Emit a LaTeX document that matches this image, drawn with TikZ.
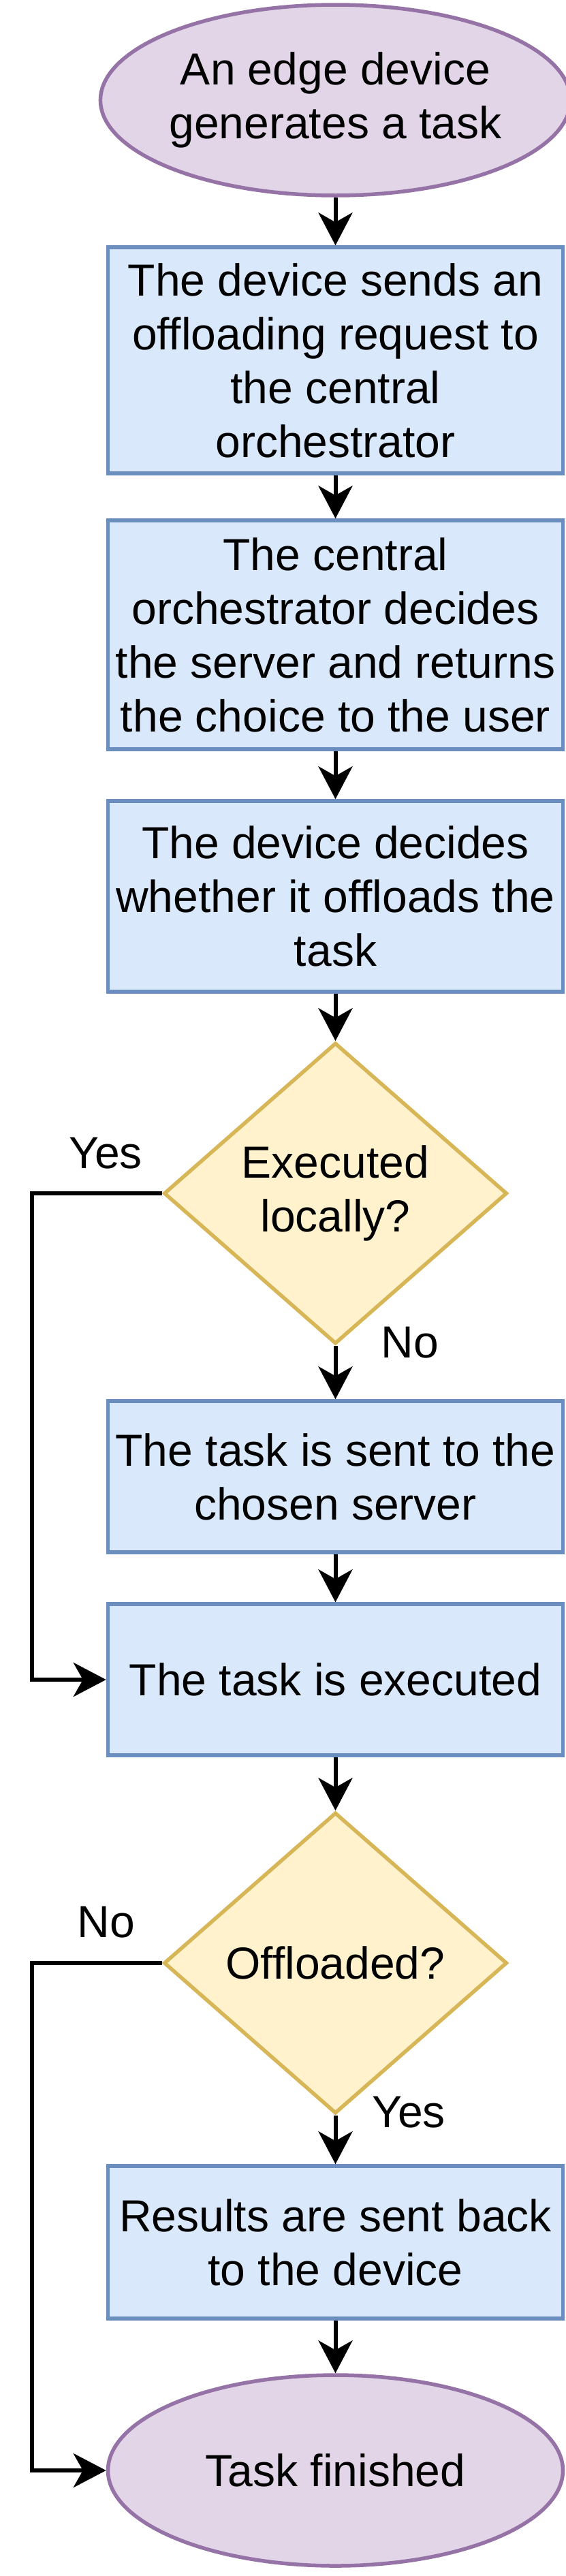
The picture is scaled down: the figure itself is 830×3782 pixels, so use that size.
\documentclass[tikz,border=0pt]{standalone}
\usepackage{fontspec}
\setmainfont{Liberation Sans}
\usetikzlibrary{shapes.geometric,arrows.meta}
\definecolor{pfill}{HTML}{E1D5E7}
\definecolor{pline}{HTML}{9673A6}
\definecolor{bfill}{HTML}{DAE8FC}
\definecolor{bline}{HTML}{6C8EBF}
\definecolor{yfill}{HTML}{FFF2CC}
\definecolor{yline}{HTML}{D6B656}
\begin{document}
\begin{tikzpicture}[x=1pt,y=-1pt,
  every node/.style={font=\fontsize{66}{79}\selectfont, align=center, inner sep=0pt},
  termbox/.style={ellipse, draw=pline, fill=pfill, line width=5.5pt, minimum width=668pt, minimum height=280pt},
  stepbox/.style={rectangle, draw=bline, fill=bfill, line width=5.5pt, minimum width=668pt},
  decbox/.style={diamond, draw=yline, fill=yfill, line width=5.5pt, minimum width=504pt, minimum height=442pt},
  conn/.style={line width=6pt, -{Stealth[length=48pt,width=50pt,inset=14pt]}},
  lbl/.style={anchor=base}
]
\useasboundingbox (0,0) rectangle (830,3782);
\node[termbox] (start) at (492.5,147) {An edge device\\generates a task};
\node[stepbox, minimum height=332pt] (b1) at (492.5,529) {The device sends an\\offloading request to\\the central\\orchestrator};
\node[stepbox, minimum height=336pt] (b2) at (492.5,932) {The central\\orchestrator decides\\the server and returns\\the choice to the user};
\node[stepbox, minimum height=280pt] (b3) at (492.5,1316) {The device decides\\whether it offloads the\\task};
\node[decbox] (d1) at (492.5,1752) {Executed\\locally?};
\node[stepbox, minimum height=222pt] (b4) at (492.5,2168) {The task is sent to the\\chosen server};
\node[stepbox, minimum height=222pt] (b5) at (492.5,2466) {The task is executed};
\node[decbox] (d2) at (492.5,2882) {Offloaded?};
\node[stepbox, minimum height=224pt] (b6) at (492.5,3292) {Results are sent back\\to the device};
\node[termbox] (end) at (492.5,3627) {Task finished};

\coordinate (lx1) at (47,1752);
\coordinate (lx2) at (47,2882);

\draw[conn] (start) -- (b1);
\draw[conn] (b1) -- (b2);
\draw[conn] (b2) -- (b3);
\draw[conn] (b3) -- (d1);
\draw[conn] (d1) -- (b4);
\draw[conn] (b4) -- (b5);
\draw[conn] (b5) -- (d2);
\draw[conn] (d2) -- (b6);
\draw[conn] (b6) -- (end);
\draw[conn] (d1.west) -- (lx1) |- (b5.west);
\draw[conn] (d2.west) -- (lx2) |- (end.west);

\node[lbl] (yes1) at (155,1715) {Yes};
\node[lbl] (no1) at (602,1993) {No};
\node[lbl] (no2) at (156,2844) {No};
\node[lbl] (yes2) at (600,3123) {Yes};
\end{tikzpicture}
\end{document}
